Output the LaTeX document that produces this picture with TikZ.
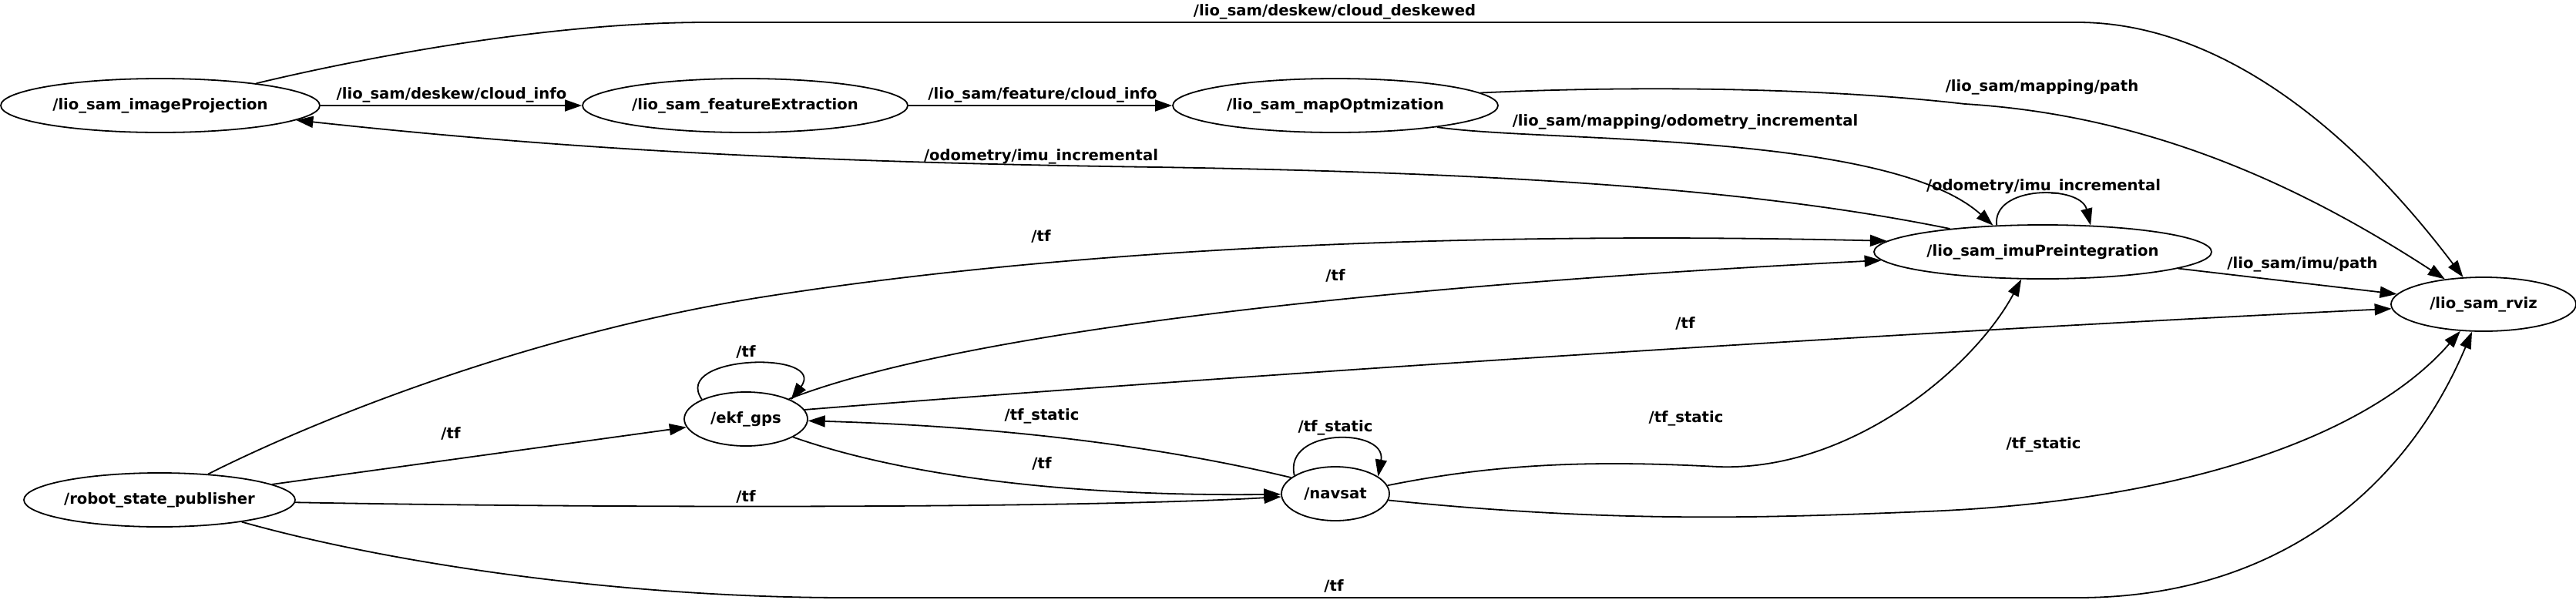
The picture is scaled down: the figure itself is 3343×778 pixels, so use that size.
\documentclass[tikz,border=0pt]{standalone}
\usepackage{fontspec}
\setmainfont{DejaVu Sans}
\usepackage{tikz}
\usetikzlibrary{shapes.geometric, arrows.meta}

\begin{document}
\begin{tikzpicture}[
    x=0.5pt, y=-0.5pt,
    ros_node/.style={ellipse, draw, line width=0.9pt, minimum height=35pt, inner sep=0pt, font=\bfseries\fontsize{9.8}{11}\selectfont},
    arrow_topic/.style={-{Triangle[length=11pt, width=7.5pt]}, line width=0.9pt},
    label_style/.style={font=\bfseries\fontsize{9.8}{11}\selectfont, inner sep=0pt}
]

\useasboundingbox (0,0) rectangle (3343,778);

\node[ros_node, minimum width=207pt] (imgproj) at (208,137) {/lio\_sam\_imageProjection};
\node[ros_node, minimum width=211pt] (featext) at (967,137) {/lio\_sam\_featureExtraction};
\node[ros_node, minimum width=211pt] (mapopt) at (1733,137) {/lio\_sam\_mapOptmization};
\node[ros_node, minimum width=219pt] (imupre) at (2651,327) {/lio\_sam\_imuPreintegration};
\node[ros_node, minimum width=120pt] (rviz) at (3223,395) {/lio\_sam\_rviz};
\node[ros_node, minimum width=176pt] (robot) at (207,649) {/robot\_state\_publisher};
\node[ros_node, minimum width=80pt] (ekf) at (968,544) {/ekf\_gps};
\node[ros_node, minimum width=70pt] (navsat) at (1733,641) {/navsat};

\draw[arrow_topic] (imgproj) -- (featext)
    node[label_style] at (586,123) {/lio\_sam/deskew/cloud\_info};
\draw[arrow_topic] (featext) -- (mapopt)
    node[label_style] at (1353,123) {/lio\_sam/feature/cloud\_info};
\draw[arrow_topic] (imgproj.13) .. controls (450,80) and (700,29) .. (918,29) -- (2696,29)
    .. controls (2860,29) and (3030,140) .. (rviz)
    node[label_style] at (1732,15) {/lio\_sam/deskew/cloud\_deskewed};
\draw[arrow_topic] (mapopt.5) .. controls (2100,112) and (2350,112) .. (2550,135)
    .. controls (2800,150) and (3000,250) .. (rviz)
    node[label_style] at (2650,113) {/lio\_sam/mapping/path};
\draw[arrow_topic] (mapopt.-12) .. controls (2000,185) and (2450,170) .. (imupre.152)
    node[label_style] at (2187,158) {/lio\_sam/mapping/odometry\_incremental};

\draw[arrow_topic] (imupre.166) .. controls (2300,250) and (2000,225) .. (1500,217)
    .. controls (1000,210) and (700,190) .. (imgproj)
    node[label_style] at (1351,203) {/odometry/imu\_incremental};
\draw[arrow_topic] (imupre.150) .. controls (2585,240) and (2700,240) .. (imupre.29)
    node[label_style] at (2652,242) {/odometry/imu\_incremental};
\draw[arrow_topic] (imupre.-7) -- (rviz)
    node[label_style] at (2988,343) {/lio\_sam/imu/path};

\draw[arrow_topic] (robot.28) .. controls (420,540) and (700,430) .. (1000,384)
    .. controls (1400,322) and (1900,300) .. (imupre.176)
    node[label_style] at (1351,307) {/tf};
\draw[arrow_topic] (robot) -- (ekf)
    node[label_style] at (585,563) {/tf};
\draw[arrow_topic] (robot) .. controls (800,660) and (1400,660) .. (navsat)
    node[label_style] at (968,645) {/tf};
\draw[arrow_topic] (robot.-15) .. controls (500,730) and (800,776) .. (1100,776) -- (2696,776)
    .. controls (2950,776) and (3120,640) .. (rviz)
    node[label_style] at (1731,761) {/tf};

\draw[arrow_topic] (ekf.156) .. controls (870,460) and (1075,455) .. (ekf.23)
    node[label_style] at (968,457) {/tf};
\draw[arrow_topic] (ekf.25) .. controls (1250,430) and (1800,370) .. (imupre.183)
    node[label_style] at (1733,358) {/tf};
\draw[arrow_topic] (ekf.9) .. controls (1700,480) and (2500,430) .. (rviz)
    node[label_style] at (2187,420) {/tf};
\draw[arrow_topic] (ekf.-21) .. controls (1150,610) and (1350,645) .. (navsat)
    node[label_style] at (1352,602) {/tf};

\draw[arrow_topic] (navsat.160) .. controls (1550,590) and (1350,555) .. (ekf)
    node[label_style] at (1352,540) {/tf\_static};
\draw[arrow_topic] (navsat.156) .. controls (1665,555) and (1800,555) .. (navsat.22)
    node[label_style] at (1733,555) {/tf\_static};
\draw[arrow_topic] (navsat.9) .. controls (1950,600) and (2080,598) .. (2230,606)
    .. controls (2400,612) and (2560,480) .. (imupre.-128)
    node[label_style] at (2188,543) {/tf\_static};
\draw[arrow_topic] (navsat.-7) .. controls (2100,680) and (2300,672) .. (2500,664)
    .. controls (2850,650) and (3080,560) .. (rviz)
    node[label_style] at (2652,577) {/tf\_static};

\end{tikzpicture}
\end{document}
